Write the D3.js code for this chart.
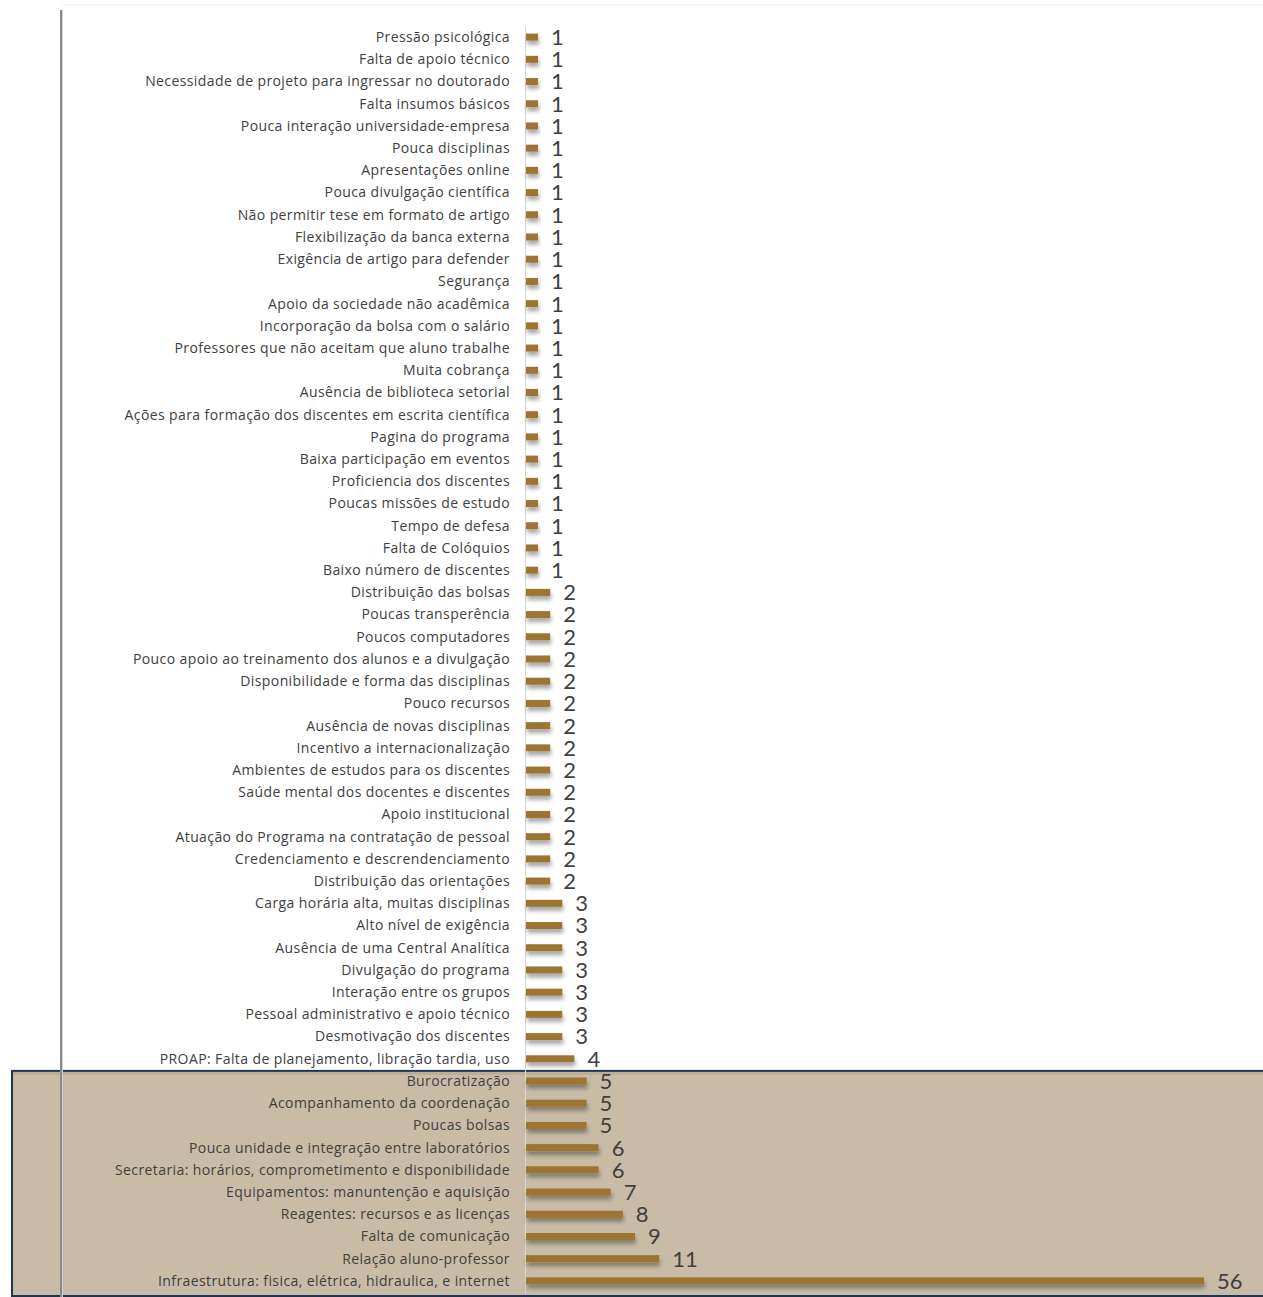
<!DOCTYPE html>
<html>
<head>
<meta charset="utf-8">
<script src="https://cdn.jsdelivr.net/npm/d3@7"></script>
<style>
  body { margin: 0; background: #fff; }
  svg { display: block; }
</style>
</head>
<body>
<div class="chart"></div>
<script>
// categories, top to bottom as shown
const categories = [
  "Pressão psicológica",
  "Falta de apoio técnico",
  "Necessidade de projeto para ingressar no doutorado",
  "Falta insumos básicos ",
  "Pouca interação universidade-empresa",
  "Pouca disciplinas",
  "Apresentações online",
  "Pouca divulgação científica",
  "Não permitir tese em formato de artigo",
  "Flexibilização da banca externa",
  "Exigência de artigo para defender",
  "Segurança",
  "Apoio da sociedade não acadêmica",
  "Incorporação da bolsa com o salário",
  "Professores que não aceitam que aluno trabalhe",
  "Muita cobrança",
  "Ausência de biblioteca setorial",
  "Ações para formação dos discentes em escrita científica",
  "Pagina do programa",
  "Baixa participação em eventos",
  "Proficiencia dos discentes",
  "Poucas missões de estudo",
  "Tempo de defesa",
  "Falta de Colóquios",
  "Baixo número de discentes",
  "Distribuição das bolsas",
  "Poucas transperência",
  "Poucos computadores",
  "Pouco apoio ao treinamento dos alunos e a divulgação",
  "Disponibilidade e forma das disciplinas",
  "Pouco recursos",
  "Ausência de novas disciplinas",
  "Incentivo a internacionalização",
  "Ambientes de estudos para os discentes",
  "Saúde mental dos docentes e discentes",
  "Apoio institucional",
  "Atuação do Programa na contratação de pessoal",
  "Credenciamento e descrendenciamento",
  "Distribuição das orientações",
  "Carga horária alta, muitas disciplinas",
  "Alto nível de exigência",
  "Ausência de uma Central Analítica",
  "Divulgação do programa",
  "Interação entre os grupos ",
  "Pessoal administrativo e apoio técnico",
  "Desmotivação dos discentes",
  "PROAP: Falta de planejamento, libração tardia, uso",
  "Burocratização",
  "Acompanhamento da coordenação",
  "Poucas bolsas",
  "Pouca unidade e integração entre laboratórios",
  "Secretaria: horários, comprometimento e disponibilidade",
  "Equipamentos: manuntenção e aquisição",
  "Reagentes: recursos e as licenças",
  "Falta de comunicação",
  "Relação aluno-professor",
  "Infraestrutura: fisica, elétrica, hidraulica, e internet"
];

const values = [
  1, 1, 1, 1, 1, 1, 1, 1, 1, 1, 1, 1, 1, 1, 1, 1, 1, 1, 1, 1, 1, 1, 1, 1, 1,
  2, 2, 2, 2, 2, 2, 2, 2, 2, 2, 2, 2, 2, 2,
  3, 3, 3, 3, 3, 3, 3,
  4,
  5, 5, 5, 6, 6, 7, 8, 9, 11, 56
];

// the highlighted group at the bottom
const highlighted = categories.slice(47);

const data = categories.map((c, i) => ({ name: c, value: values[i] }));

var w = 1263;
var h = 1297;

const svg = d3.select(".chart")
  .append("svg")
  .attr("width", w)
  .attr("height", h);

const defs = svg.append("defs");

const shadow = defs.append("filter")
  .attr("id", "shadow")
  .attr("x", "-10%").attr("y", "-50%")
  .attr("width", "130%").attr("height", "300%");
shadow.append("feDropShadow")
  .attr("dx", 1).attr("dy", 4)
  .attr("stdDeviation", 2)
  .attr("flood-color", "#000")
  .attr("flood-opacity", 0.35);

const sideShadow = defs.append("filter")
  .attr("id", "sideShadow")
  .attr("x", "-300%").attr("y", "-5%")
  .attr("width", "700%").attr("height", "110%");
sideShadow.append("feGaussianBlur").attr("stdDeviation", 1);

// scales
const y = d3.scaleBand()
  .domain(categories)
  .range([26, 1292])
  .paddingInner(0);

const x = d3.scaleLinear()
  .domain([0, 56])
  .range([526, 1204]);

// chart area frame: faint top edge
svg.append("line")
  .attr("x1", 62).attr("x2", w)
  .attr("y1", 5).attr("y2", 5)
  .attr("stroke", "#f0f0f0")
  .attr("stroke-width", 1);

// highlight box behind the bottom group
const hTop = y(highlighted[0]) + 1;
svg.append("rect")
  .attr("x", 12)
  .attr("y", hTop)
  .attr("width", w - 12 + 2)
  .attr("height", h - hTop - 1)
  .attr("fill", "#c8bca6")
  .attr("stroke", "#1f3556")
  .attr("stroke-width", 2);

// inner shade along the top of the box
svg.append("rect")
  .attr("x", 13).attr("y", hTop + 1)
  .attr("width", w - 13).attr("height", 3)
  .attr("fill", "#b2a68f")
  .attr("opacity", 0.6);

// left edge line with shadow
svg.append("line")
  .attr("x1", 60.5).attr("x2", 60.5)
  .attr("y1", 10).attr("y2", h)
  .attr("stroke", "#777")
  .attr("stroke-width", 4)
  .attr("opacity", 0.9)
  .attr("filter", "url(#sideShadow)");
svg.append("line")
  .attr("x1", 61).attr("x2", 61)
  .attr("y1", 10).attr("y2", h)
  .attr("stroke", "#8a8a8a")
  .attr("stroke-width", 2);
svg.append("line")
  .attr("x1", 62.5).attr("x2", 62.5)
  .attr("y1", 10).attr("y2", h)
  .attr("stroke", "#d0d0d0")
  .attr("stroke-width", 1);

// y axis line
svg.append("line")
  .attr("x1", 525.5).attr("x2", 525.5)
  .attr("y1", 26).attr("y2", 1294)
  .attr("stroke", "#d9d9d9")
  .attr("stroke-width", 1);

// bars
const barH = 7;
svg.append("g")
  .selectAll("rect")
  .data(data)
  .enter()
  .append("rect")
  .attr("x", x(0))
  .attr("y", d => y(d.name) + y.bandwidth() / 2 - barH / 2)
  .attr("width", d => x(d.value) - x(0))
  .attr("height", barH)
  .attr("fill", "#9c7431")
  .attr("filter", "url(#shadow)");

// category labels
svg.append("g")
  .selectAll("text")
  .data(data)
  .enter()
  .append("text")
  .attr("x", 510)
  .attr("y", d => y(d.name) + y.bandwidth() / 2)
  .attr("dy", "0.35em")
  .attr("text-anchor", "end")
  .attr("font-family", "'Open Sans', sans-serif")
  .attr("font-size", 14)
  .attr("letter-spacing", 0.4)
  .attr("fill", "#404040")
  .text(d => d.name);

// value labels
svg.append("g")
  .selectAll("text")
  .data(data)
  .enter()
  .append("text")
  .attr("x", d => x(d.value) + 13)
  .attr("y", d => y(d.name) + y.bandwidth() / 2)
  .attr("dy", "0.36em")
  .attr("font-family", "Lato, 'Open Sans', sans-serif")
  .attr("font-size", 22)
  .attr("fill", "#404040")
  .text(d => d.value);
</script>
</body>
</html>
